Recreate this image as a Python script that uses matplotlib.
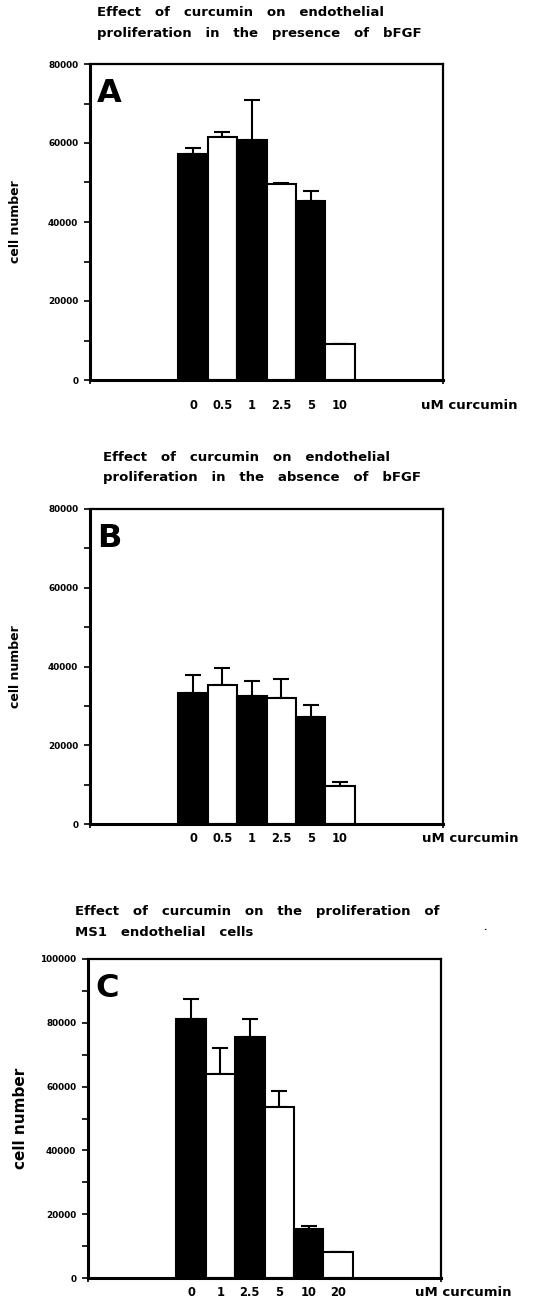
import matplotlib
matplotlib.use("Agg")
import matplotlib.pyplot as plt
import numpy as np

plt.rcParams["font.family"] = ["DejaVu Sans"]
plt.rcParams["font.weight"] = "bold"

# panel A: with bFGF
doses_a = ["0", "0.5", "1", "2.5", "5", "10"]
cells_a = [57300, 61400, 60800, 49700, 45300, 9000]
err_a = [1500, 1300, 10100, 200, 2600, 0]

# panel B: without bFGF
doses_b = ["0", "0.5", "1", "2.5", "5", "10"]
cells_b = [33200, 35400, 32400, 32000, 27300, 9700]
err_b = [4700, 4200, 4000, 4800, 3000, 900]

# panel C: MS1 cells
doses_c = ["0", "1", "2.5", "5", "10", "20"]
cells_c = [81200, 63900, 75400, 53700, 15300, 8000]
err_c = [6200, 8100, 5800, 4900, 1000, 0]

W, H = 544, 1301
fig = plt.figure(figsize=(W / 100, H / 100), dpi=100)


def px(x, y):
    return x / W, 1 - y / H


def panel(left, top, right, bottom, doses, cells, err, ymax, letter,
          title, title_xy, unit_xy, ylab_x, ylab_size, lab_pad):
    ax = fig.add_axes([left / W, 1 - bottom / H,
                       (right - left) / W, (bottom - top) / H])
    x = np.arange(len(doses))
    colors = ["black" if i % 2 == 0 else "white" for i in range(len(doses))]
    ax.bar(x, cells, width=1.0, color=colors, edgecolor="black",
           linewidth=1.5, zorder=2)
    lower = np.zeros(len(err))
    ax.errorbar(x, cells, yerr=[lower, err], fmt="none", ecolor="black",
                elinewidth=1.5, capsize=5.5, capthick=1.5, zorder=1)
    ax.set_xlim(-3.5, 8.5)
    ax.set_ylim(0, ymax)
    ax.set_yticks(np.arange(0, ymax + 1, 20000))
    ax.set_yticklabels([str(v) for v in range(0, ymax + 1, 20000)],
                       fontsize=6.4, fontweight="bold")
    ax.set_yticks(np.arange(0, ymax + 1, 10000), minor=True)
    ax.set_xticks(x)
    ax.set_xticklabels(doses, fontsize=8.3, fontweight="bold")
    ax.set_xticks([-3.5, 8.5], minor=True)
    ax.tick_params(axis="x", which="major", length=0, pad=lab_pad)
    ax.tick_params(axis="x", which="minor", length=3, width=1.2,
                   direction="out")
    ax.tick_params(axis="y", which="both", length=4, width=1.2,
                   direction="out", pad=4.5)
    for side in ["left", "bottom"]:
        ax.spines[side].set_linewidth(2.2)
    for side in ["top", "right"]:
        ax.spines[side].set_linewidth(1.6)
    ax.text(7 / (right - left), 1 - 14 / (bottom - top), letter,
            transform=ax.transAxes, fontsize=23, fontweight="bold",
            va="top", ha="left")
    fig.text(*px(*unit_xy), "uM curcumin", fontsize=9.5,
             fontweight="bold", va="center", ha="left")
    ax.set_ylabel("cell number", fontsize=ylab_size, fontweight="bold")
    ax.yaxis.set_label_coords(-(left - ylab_x) / (right - left), 0.5)
    fig.text(*px(*title_xy), title, fontsize=9.5, fontweight="bold",
             va="top", ha="left", linespacing=1.75)
    return ax


panel(90, 64, 443, 380, doses_a, cells_a, err_a, 80000, "A",
      "Effect   of   curcumin   on   endothelial\n"
      "proliferation   in   the   presence   of   bFGF",
      (97, 6), (421, 405), 22, 9, 14)

panel(90, 509, 443, 824, doses_b, cells_b, err_b, 80000, "B",
      "Effect   of   curcumin   on   endothelial\n"
      "proliferation   in   the   absence   of   bFGF",
      (103, 451), (422, 838), 22, 9, 6)

panel(88, 959, 441, 1278, doses_c, cells_c, err_c, 100000, "C",
      "Effect   of   curcumin   on   the   proliferation   of\n"
      "MS1   endothelial   cells",
      (75, 905), (415, 1292), 28, 11, 6)

fig.text(*px(485, 928), ".", fontsize=6, ha="center", va="center")

fig.savefig("out.png", dpi=100)
